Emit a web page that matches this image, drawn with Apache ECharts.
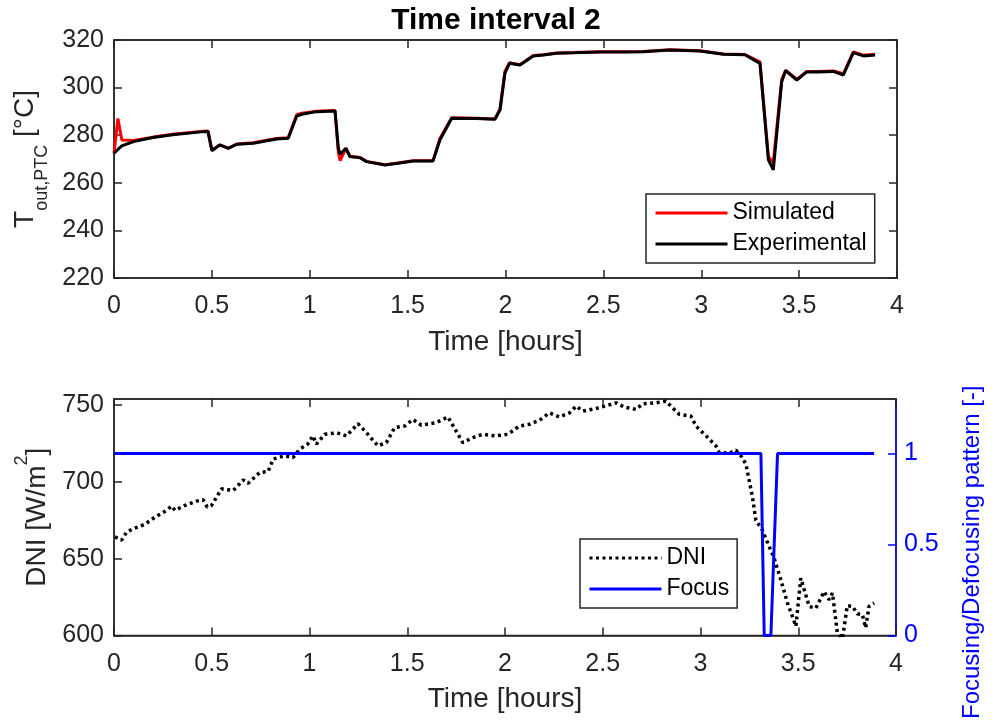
<!DOCTYPE html>
<html>
<head>
<meta charset="utf-8">
<script src="https://cdn.jsdelivr.net/npm/echarts@6/dist/echarts.min.js"></script>
<style>
    html, body { margin: 0; padding: 0; background: #fff; }
    #chart { width: 992px; height: 722px; }
</style>
</head>
<body>
<div id="chart"></div>
<script>
// top panel: outlet temperature
const timeTop = [0, 0.02, 0.04, 0.1, 0.2, 0.3, 0.456, 0.48, 0.5, 0.54, 0.584, 0.627, 0.712, 0.83, 0.89, 0.933, 0.96, 1.035, 1.129, 1.146, 1.155, 1.185, 1.205, 1.257, 1.29, 1.384, 1.45, 1.529, 1.63, 1.665, 1.725, 1.85, 1.946, 1.972, 1.997, 2.02, 2.074, 2.142, 2.193, 2.262, 2.35, 2.483, 2.6, 2.704, 2.84, 2.993, 3.113, 3.223, 3.3, 3.343, 3.368, 3.411, 3.431, 3.488, 3.539, 3.6, 3.675, 3.726, 3.777, 3.828, 3.888];
const experimental = [272.4, 274, 275.5, 277.3, 279, 280.2, 281.5, 281.6, 273.5, 275.9, 274.5, 276.2, 276.6, 278.4, 278.7, 288, 288.8, 289.9, 290.2, 274.5, 272, 274.5, 271, 270.5, 268.9, 267.5, 268.2, 269.2, 269.2, 278, 287.1, 287, 286.7, 290.6, 306, 310.2, 309.5, 313.3, 313.7, 314.4, 314.6, 315, 315, 315.1, 315.8, 315.4, 314, 313.8, 310.2, 269.6, 265.4, 302.5, 307.1, 303.2, 306.6, 306.6, 306.8, 305.3, 314.7, 313.3, 313.7];
const simulated = [272.4, 287, 278, 277.8, 279.2, 280.4, 281.7, 281.8, 273.8, 275.9, 274.6, 276.3, 276.8, 278.6, 278.9, 288.6, 289.2, 290.1, 290.4, 273, 269.3, 274.5, 271.2, 270.6, 269, 267.6, 268.3, 269.3, 269.3, 278.6, 287.3, 287.1, 286.8, 291, 306.8, 310.4, 309.6, 313.5, 313.8, 314.5, 314.7, 315.1, 315.1, 315.2, 315.9, 315.5, 314.1, 313.9, 310.8, 271, 268.5, 303.5, 307.3, 303.4, 306.8, 306.8, 307, 305.8, 315, 313.6, 314];

// bottom panel: DNI and focusing pattern
const timeDni = [0.005, 0.039, 0.065, 0.099, 0.158, 0.21, 0.269, 0.295, 0.312, 0.363, 0.422, 0.456, 0.477, 0.499, 0.55, 0.61, 0.661, 0.686, 0.746, 0.788, 0.814, 0.874, 0.916, 0.95, 0.99, 1.018, 1.035, 1.078, 1.14, 1.189, 1.248, 1.291, 1.35, 1.393, 1.435, 1.487, 1.529, 1.572, 1.648, 1.708, 1.784, 1.836, 1.887, 1.95, 2.014, 2.074, 2.125, 2.176, 2.227, 2.278, 2.33, 2.364, 2.398, 2.483, 2.568, 2.61, 2.67, 2.704, 2.772, 2.823, 2.891, 2.951, 2.977, 3.028, 3.079, 3.096, 3.147, 3.181, 3.207, 3.232, 3.266, 3.283, 3.317, 3.334, 3.377, 3.411, 3.445, 3.47, 3.488, 3.513, 3.556, 3.59, 3.632, 3.658, 3.675, 3.7, 3.726, 3.751, 3.777, 3.802, 3.828, 3.845, 3.862, 3.888];
const dni = [664.2, 662.1, 667.4, 669.6, 672.4, 677.1, 681.5, 684.3, 681.5, 684.7, 687.5, 688.4, 683.6, 684.7, 695.5, 694.4, 701.3, 699.1, 706.2, 706.7, 714.9, 717, 715.9, 721.4, 724.5, 730, 724.6, 731, 732, 730, 737.9, 732.1, 723.5, 725.6, 735.3, 736.4, 740.7, 736.9, 738.6, 742.3, 725.6, 728.9, 731, 730, 731, 736.4, 737.5, 740.1, 745, 742.3, 745, 749.4, 746.1, 748.3, 751.5, 748.7, 747.2, 750.9, 751.5, 752.6, 744, 742.9, 736.4, 730, 723.5, 719.2, 718.7, 720.7, 717, 711.7, 690.1, 675, 668.5, 663.2, 650.2, 636.2, 621.1, 612.5, 606, 637.3, 618.9, 617.8, 628.6, 623.3, 627.6, 601.7, 598, 619.4, 619, 614.2, 613.6, 605, 619, 621.1];
const timeFocus = [0, 3.309, 3.326, 3.36, 3.394, 3.888];
const focus = [1, 1, 0, 0, 1, 1];

const timeTicks = 0.5;
const FONT = '"Liberation Sans", Arial, sans-serif';
const AX = '#262626';
const BLUE = '#0000ff';

function pairs(xs, ys) {
    return xs.map(function (x, i) { return [x, ys[i]]; });
}

let myChart = echarts.init(document.getElementById('chart'));

function xAx(grid, pos, labels) {
    return {
        type: 'value', gridIndex: grid, position: pos, min: 0, max: 4, interval: timeTicks,
        name: labels ? 'Time [hours]' : '', nameLocation: 'middle', nameGap: 50,
        nameTextStyle: { fontSize: 28, color: AX, fontFamily: FONT },
        axisLine: { show: true, onZero: false, lineStyle: { color: AX, width: 1.5 } },
        axisTick: { show: true, inside: true, length: 8, lineStyle: { color: AX, width: 1.5 } },
        axisLabel: { show: labels, fontSize: 25, color: AX, fontFamily: FONT, margin: 16 },
        splitLine: { show: false }
    };
}

function legendBox(names, left, top) {
    return {
        data: names, orient: 'vertical', left: left, top: top,
        padding: [6, 8, 6, 8], itemGap: 5, itemWidth: 72, itemHeight: 14,
        backgroundColor: '#fff', borderColor: AX, borderWidth: 1.5, borderRadius: 0,
        itemStyle: { opacity: 0 },
        lineStyle: { width: 3 },
        textStyle: { fontSize: 23, color: '#000', fontFamily: FONT, lineHeight: 26 }
    };
}

let option = {
    animation: false,
    backgroundColor: '#fff',
    title: {
        text: 'Time interval 2', left: 'center', top: 1,
        textStyle: { fontSize: 30, fontWeight: 'bold', color: '#000', fontFamily: FONT }
    },
    grid: [
        { left: 114, right: 95, top: 40, height: 238, show: true, borderColor: AX, borderWidth: 1.5, backgroundColor: '#fff' },
        { left: 114, right: 95, top: 399, height: 237, show: true, borderColor: AX, borderWidth: 1.5, backgroundColor: '#fff' }
    ],
    legend: [
        legendBox(['Simulated', 'Experimental'], 646, 194),
        legendBox(['DNI', 'Focus'], 580, 539)
    ],
    xAxis: [xAx(0, 'bottom', true), xAx(0, 'top', false), xAx(1, 'bottom', true), xAx(1, 'top', false)],
    yAxis: [
        {
            type: 'value', gridIndex: 0, position: 'left', min: 220, max: 320, interval: 20,
            name: '{a|T}{b|out,PTC}{a| [°C]}', nameLocation: 'middle', nameGap: 62,
            nameTextStyle: {
                color: AX, fontFamily: FONT,
                rich: {
                    a: { fontSize: 28, lineHeight: 28, verticalAlign: 'top', color: AX, fontFamily: FONT },
                    b: { fontSize: 18, lineHeight: 18, verticalAlign: 'top', padding: [22, 0, 0, 0], color: AX, fontFamily: FONT }
                }
            },
            axisLine: { show: true, onZero: false, lineStyle: { color: AX, width: 1.5 } },
            axisTick: { show: true, inside: true, length: 8, lineStyle: { color: AX, width: 1.5 } },
            axisLabel: { fontSize: 25, color: AX, fontFamily: FONT, margin: 10 },
            splitLine: { show: false }
        },
        {
            type: 'value', gridIndex: 0, position: 'right', min: 220, max: 320, interval: 20,
            axisLine: { show: true, onZero: false, lineStyle: { color: AX, width: 1.5 } },
            axisTick: { show: true, inside: true, length: 8, lineStyle: { color: AX, width: 1.5 } },
            axisLabel: { show: false },
            splitLine: { show: false }
        },
        {
            type: 'value', gridIndex: 1, position: 'left', min: 600, max: 754, interval: 50,
            name: '{a|DNI [W/m}{c|2}{a|]}', nameLocation: 'middle', nameGap: 66,
            nameTextStyle: {
                color: AX, fontFamily: FONT,
                rich: {
                    a: { fontSize: 28, lineHeight: 28, verticalAlign: 'top', padding: [10, 0, 0, 0], color: AX, fontFamily: FONT },
                    c: { fontSize: 18, lineHeight: 18, verticalAlign: 'top', color: AX, fontFamily: FONT }
                }
            },
            axisLine: { show: true, onZero: false, lineStyle: { color: AX, width: 1.5 } },
            axisTick: { show: true, inside: true, length: 8, lineStyle: { color: AX, width: 1.5 } },
            axisLabel: { fontSize: 25, color: AX, fontFamily: FONT, margin: 10, showMaxLabel: false },
            splitLine: { show: false }
        },
        {
            type: 'value', gridIndex: 1, position: 'right', min: 0, max: 1.3, interval: 0.5,
            name: 'Focusing/Defocusing pattern [-]', nameLocation: 'middle', nameGap: 64,
            nameTextStyle: { fontSize: 24, color: BLUE, fontFamily: FONT, padding: [0, 70, 0, 0] },
            axisLine: { show: true, onZero: false, lineStyle: { color: BLUE, width: 1.5 } },
            axisTick: { show: true, inside: true, length: 8, lineStyle: { color: BLUE, width: 1.5 } },
            axisLabel: { fontSize: 25, color: BLUE, fontFamily: FONT, margin: 8, showMaxLabel: false },
            splitLine: { show: false }
        }
    ],
    series: [
        {
            name: 'Simulated', type: 'line', xAxisIndex: 0, yAxisIndex: 0,
            data: pairs(timeTop, simulated), symbol: 'none',
            lineStyle: { color: '#ff0000', width: 3 }, itemStyle: { color: '#ff0000' }
        },
        {
            name: 'Experimental', type: 'line', xAxisIndex: 0, yAxisIndex: 0,
            data: pairs(timeTop, experimental), symbol: 'none',
            lineStyle: { color: '#000000', width: 3 }, itemStyle: { color: '#000000' }
        },
        {
            name: 'DNI', type: 'line', xAxisIndex: 2, yAxisIndex: 2,
            data: pairs(timeDni, dni), symbol: 'none',
            lineStyle: { color: '#000000', width: 3.5, type: [3, 3.5] }, itemStyle: { color: '#000000' }
        },
        {
            name: 'Focus', type: 'line', xAxisIndex: 2, yAxisIndex: 3,
            data: pairs(timeFocus, focus), symbol: 'none',
            lineStyle: { color: BLUE, width: 3 }, itemStyle: { color: BLUE }
        }
    ]
};
myChart.setOption(option);
window.addEventListener('resize', function () {
    myChart.resize()
})
</script>
</body>
</html>
